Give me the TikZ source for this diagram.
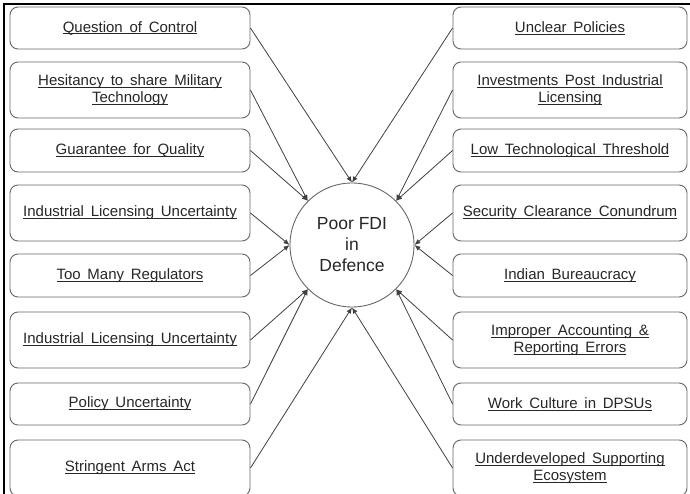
\documentclass[tikz,border=0pt]{standalone}
\usepackage{fontspec}
\setmainfont{Liberation Sans}
\usetikzlibrary{arrows.meta}
\newsavebox{\ulbox}
\newcommand{\myul}[1]{\sbox{\ulbox}{#1}\rlap{\rule[-2.2pt]{\wd\ulbox}{0.8pt}}\usebox{\ulbox}}
\newcommand{\boxfont}{\fontsize{15}{17.5}\selectfont\spaceskip=0.45em plus 0.1em\relax}
\begin{document}
\begin{tikzpicture}[x=1pt,y=-1pt,
  box/.style={draw=black!60, line width=0.9pt, rounded corners=8pt, align=center,
    font=\boxfont, text=black!85, inner sep=0pt},
  lbox/.style={box, minimum width=240pt},
  rbox/.style={box, minimum width=234pt},
  con/.style={draw=black!75, line width=0.8pt, -{Latex[length=6pt,width=5pt]}}]
\clip (0,0) rectangle (690,494);
\useasboundingbox (0,0) rectangle (690,494);
\draw[line width=2pt] (4,500) -- (4,4) -- (695,4);
% left column
\node[lbox, minimum height=42pt] (L1) at (130,28) {\myul{Question of Control}};
\node[lbox, minimum height=56pt] (L2) at (130,90) {\myul{Hesitancy to share Military}\\\myul{Technology}};
\node[lbox, minimum height=43pt] (L3) at (130,150.5) {\myul{Guarantee for Quality}};
\node[lbox, minimum height=56pt] (L4) at (130,213) {\myul{Industrial Licensing Uncertainty}};
\node[lbox, minimum height=43pt] (L5) at (130,275.5) {\myul{Too Many Regulators}};
\node[lbox, minimum height=56pt] (L6) at (130,340) {\myul{Industrial Licensing Uncertainty}};
\node[lbox, minimum height=42pt] (L7) at (130,404) {\myul{Policy Uncertainty}};
\node[lbox, minimum height=56pt] (L8) at (130,468) {\myul{Stringent Arms Act}};
% right column
\node[rbox, minimum height=42pt] (R1) at (570,28) {\myul{Unclear Policies}};
\node[rbox, minimum height=56pt] (R2) at (570,90) {\myul{Investments Post Industrial}\\\myul{Licensing}};
\node[rbox, minimum height=43pt] (R3) at (570,150.5) {\myul{Low Technological Threshold}};
\node[rbox, minimum height=56pt] (R4) at (570,213) {\myul{Security Clearance Conundrum}};
\node[rbox, minimum height=43pt] (R5) at (570,275.5) {\myul{Indian Bureaucracy}};
\node[rbox, minimum height=56pt] (R6) at (570,340) {\myul{Improper Accounting \&}\\\myul{Reporting Errors}};
\node[rbox, minimum height=42pt] (R7) at (570,404) {\myul{Work Culture in DPSUs}};
\node[rbox, minimum height=56pt] (R8) at (570,468) {\myul{Underdeveloped Supporting}\\\myul{Ecosystem}};
% centre
\node[circle, draw=black!60, line width=0.9pt, minimum size=124pt, inner sep=0pt, align=center,
  font=\fontsize{17.5}{21}\selectfont, text=black!85] (C) at (352,245) {Poor FDI\\in\\Defence};
% connectors
\draw[con] (L1.east) -- (C.north);
\draw[con] (R1.west) -- (C.north);
\draw[con] (L2.east) -- (C.north west);
\draw[con] (L3.east) -- (C.north west);
\draw[con] (L4.east) -- (C.west);
\draw[con] (L5.east) -- (C.west);
\draw[con] (L6.east) -- (C.south west);
\draw[con] (L7.east) -- (C.south west);
\draw[con] (L8.east) -- (C.south);
\draw[con] (R8.west) -- (C.south);
\draw[con] (R7.west) -- (C.south east);
\draw[con] (R6.west) -- (C.south east);
\draw[con] (R5.west) -- (C.east);
\draw[con] (R4.west) -- (C.east);
\draw[con] (R3.west) -- (C.north east);
\draw[con] (R2.west) -- (C.north east);
\end{tikzpicture}
\end{document}
